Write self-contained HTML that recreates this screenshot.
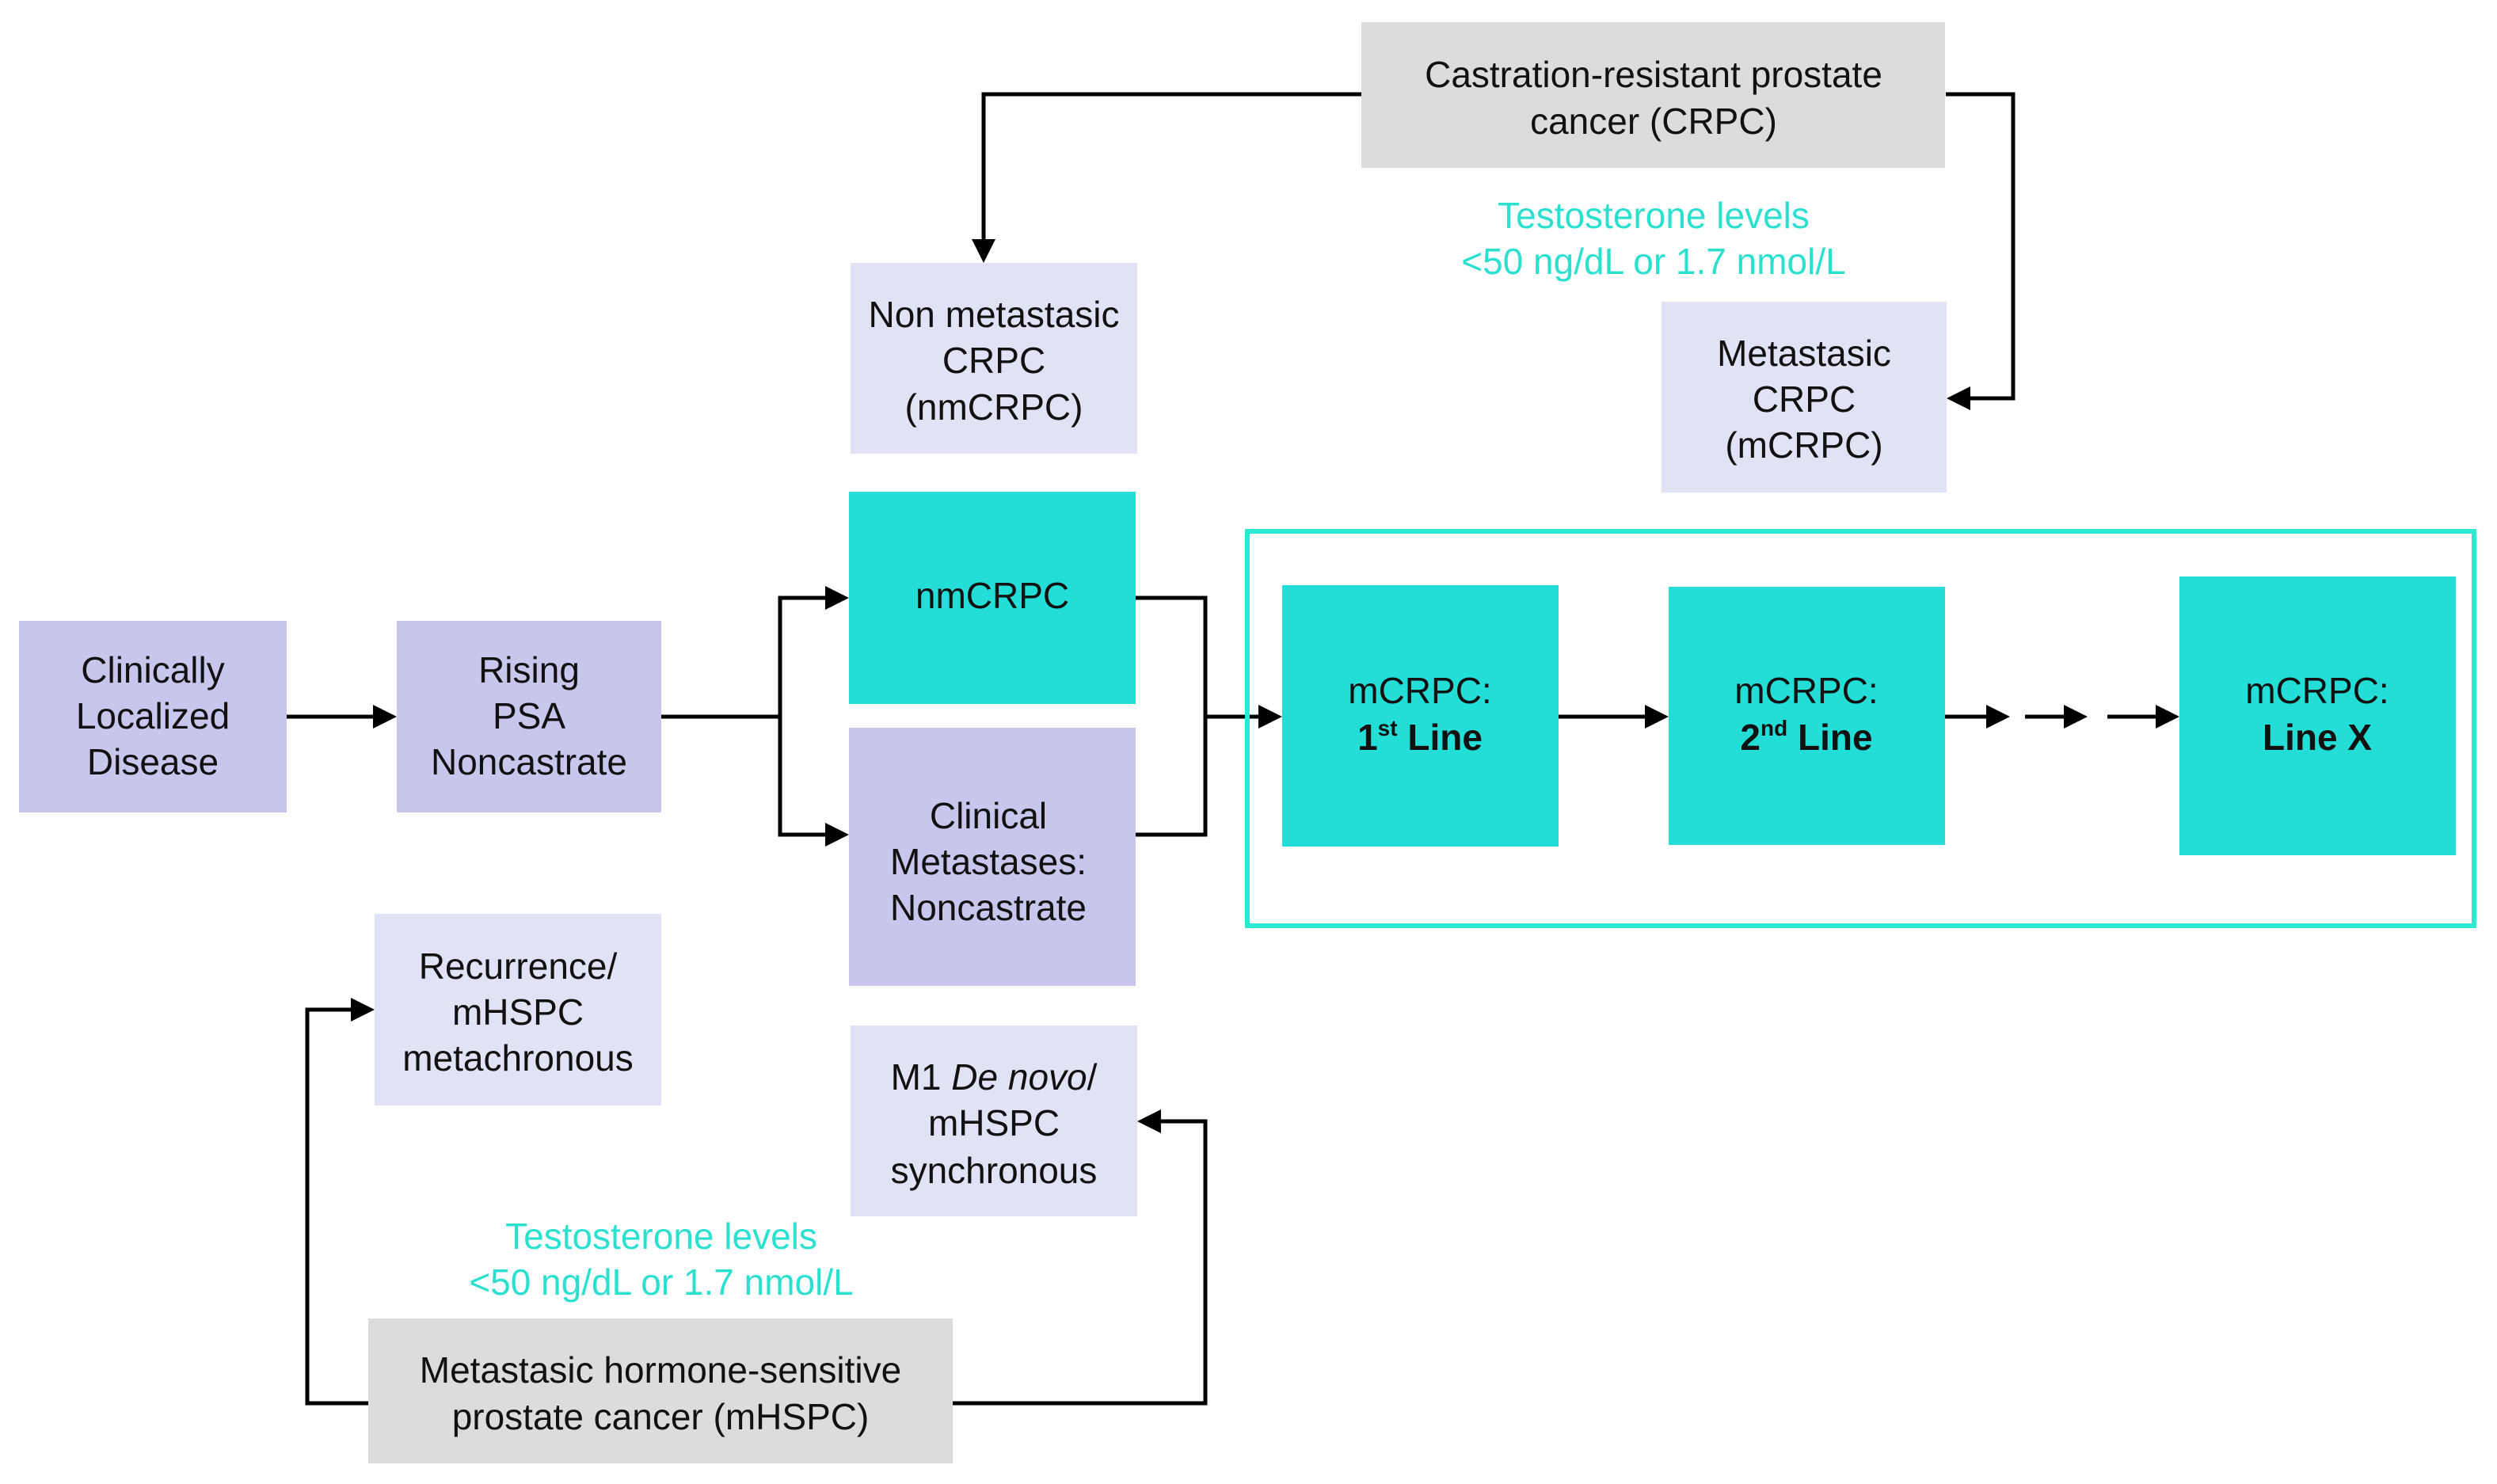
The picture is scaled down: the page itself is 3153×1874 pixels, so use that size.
<!DOCTYPE html>
<html><head><meta charset="utf-8"><style>html,body{margin:0;padding:0;background:#fff}svg{display:block}</style></head>
<body>
<svg width="3153" height="1874" viewBox="0 0 3153 1874" xmlns="http://www.w3.org/2000/svg" font-family="Liberation Sans, Arial, sans-serif" font-size="46">
<defs>
<marker id="a" markerWidth="6" markerHeight="6" refX="5" refY="3" orient="auto" markerUnits="strokeWidth"><path d="M0,0 L6,3 L0,6 z" fill="#000"/></marker>
</defs>
<g fill="none" stroke="#000" stroke-width="5">
<line x1="362" y1="905" x2="496" y2="905" marker-end="url(#a)"/>
<polyline points="835,905 985,905"/>
<polyline points="1067,755 985,755 985,1054 1067,1054" marker-end="url(#a)"/>
<line x1="985" y1="755" x2="1067" y2="755" marker-end="url(#a)"/>
<polyline points="1434,755 1522,755 1522,1054 1434,1054"/>
<line x1="1522" y1="905" x2="1614" y2="905" marker-end="url(#a)"/>
<line x1="1968" y1="905" x2="2102" y2="905" marker-end="url(#a)"/>
<line x1="2456" y1="905" x2="2533" y2="905" marker-end="url(#a)"/>
<line x1="2557" y1="905" x2="2631" y2="905" marker-end="url(#a)"/>
<line x1="2661" y1="905" x2="2747" y2="905" marker-end="url(#a)"/>
<polyline points="1719,119 1242,119 1242,327" marker-end="url(#a)"/>
<polyline points="2457,119 2542,119 2542,503 2463,503" marker-end="url(#a)"/>
<polyline points="465,1772 388,1772 388,1275 468,1275" marker-end="url(#a)"/>
<polyline points="1203,1772 1522,1772 1522,1416 1441,1416" marker-end="url(#a)"/>
</g>
<rect x="1575" y="671" width="1549" height="498" fill="none" stroke="#2de8d2" stroke-width="6"/>
<g>
<rect x="24" y="784" width="338" height="242" fill="#c8c6ec"/>
<rect x="501" y="784" width="334" height="242" fill="#c8c6ec"/>
<rect x="1072" y="621" width="362" height="268" fill="#22ded6"/>
<rect x="1072" y="919" width="362" height="326" fill="#c8c6ec"/>
<rect x="1074" y="332" width="362" height="241" fill="#e2e2f6"/>
<rect x="1719" y="28" width="737" height="184" fill="#dcdcdc"/>
<rect x="2098" y="381" width="360" height="241" fill="#e2e2f6"/>
<rect x="1619" y="739" width="349" height="330" fill="#22ded6"/>
<rect x="2107" y="741" width="349" height="326" fill="#22ded6"/>
<rect x="2752" y="728" width="349" height="352" fill="#22ded6"/>
<rect x="473" y="1154" width="362" height="242" fill="#e2e2f6"/>
<rect x="1074" y="1295" width="362" height="241" fill="#e2e2f6"/>
<rect x="465" y="1665" width="738" height="183" fill="#dcdcdc"/>
</g>
<g text-anchor="middle" fill="#111">
<text x="193" y="862">Clinically</text><text x="193" y="920">Localized</text><text x="193" y="978">Disease</text>
<text x="668" y="862">Rising</text><text x="668" y="920">PSA</text><text x="668" y="978">Noncastrate</text>
<text x="1253" y="768">nmCRPC</text>
<text x="1248" y="1046">Clinical</text><text x="1248" y="1104">Metastases:</text><text x="1248" y="1162">Noncastrate</text>
<text x="1255" y="413">Non metastasic</text><text x="1255" y="471">CRPC</text><text x="1255" y="530">(nmCRPC)</text>
<text x="2088" y="110">Castration-resistant prostate</text><text x="2088" y="169">cancer (CRPC)</text>
<text x="2278" y="462">Metastasic</text><text x="2278" y="520">CRPC</text><text x="2278" y="578">(mCRPC)</text>
<text x="1793" y="888">mCRPC:</text><text x="1793" y="947" font-weight="bold">1<tspan font-size="28" dy="-18">st</tspan><tspan dy="18"> Line</tspan></text>
<text x="2281" y="888">mCRPC:</text><text x="2281" y="947" font-weight="bold">2<tspan font-size="28" dy="-18">nd</tspan><tspan dy="18"> Line</tspan></text>
<text x="2926" y="888">mCRPC:</text><text x="2926" y="947" font-weight="bold">Line X</text>
<text x="654" y="1236">Recurrence/</text><text x="654" y="1294">mHSPC</text><text x="654" y="1352">metachronous</text>
<text x="1255" y="1376">M1 <tspan font-style="italic">De novo</tspan>/</text><text x="1255" y="1434">mHSPC</text><text x="1255" y="1494">synchronous</text>
<text x="834" y="1746">Metastasic hormone-sensitive</text><text x="834" y="1805">prostate cancer (mHSPC)</text>
</g>
<g text-anchor="middle" fill="#2ce0d0">
<text x="2088" y="288">Testosterone levels</text><text x="2088" y="346">&lt;50 ng/dL or 1.7 nmol/L</text>
<text x="835" y="1577">Testosterone levels</text><text x="835" y="1635">&lt;50 ng/dL or 1.7 nmol/L</text>
</g>
</svg>
</body></html>
